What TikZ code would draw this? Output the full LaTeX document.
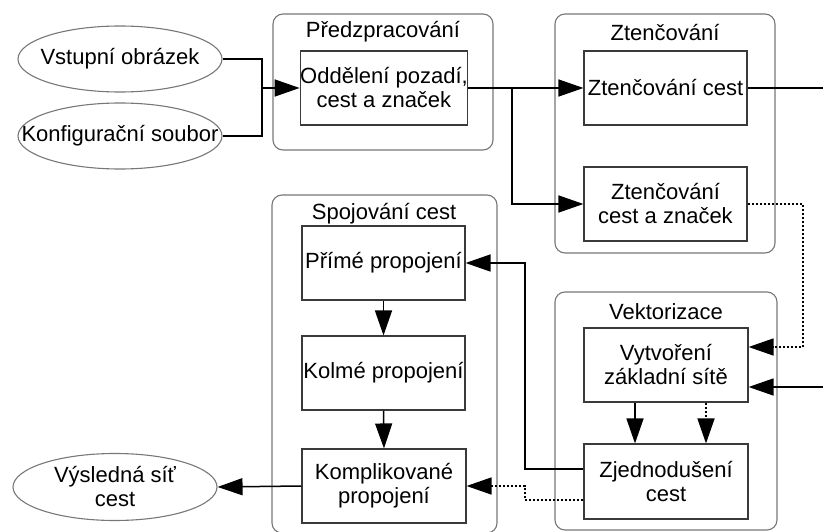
\documentclass[tikz,border=0pt]{standalone}
\usepackage{fontspec}
\setmainfont{Liberation Sans}
\usetikzlibrary{arrows.meta,shapes.geometric}
\definecolor{grpgray}{HTML}{777777}
\definecolor{boxgray}{HTML}{3A3A3A}
\begin{document}
\begin{tikzpicture}[x=1pt,y=-1pt,
  every node/.style={font=\fontsize{22}{24}\selectfont, inner sep=0pt, align=center},
  grp/.style={draw=grpgray, line width=1.1pt, rounded corners=10pt},
  grptitle/.style={},
  proc/.style={draw=boxgray, line width=1.1pt, minimum width=164pt, minimum height=74pt},
  term/.style={ellipse, draw=grpgray, line width=1.1pt, minimum width=204pt, minimum height=66pt},
  conn/.style={line width=1.5pt, black},
  arr/.style={conn, -{Triangle[length=25pt,width=17pt]}},
  dots/.style={dash pattern=on 2pt off 2pt}
]
\useasboundingbox (0,0) rectangle (823,532);

% groups
\node[grp, minimum width=220pt, minimum height=136pt] (gpre) at (383,82) {};
\node[grp, minimum width=220pt, minimum height=239pt] (gzt) at (665,133.5) {};
\node[grp, minimum width=222pt, minimum height=238pt] (gvek) at (666,411) {};
\node[grp, minimum width=225pt, minimum height=338pt] (gspo) at (384.5,364) {};

\node[grptitle] (tpre) at (383,32) {Předzpracování};
\node[grptitle] (tzt) at (665,33) {Ztenčování};
\node[grptitle] (tvek) at (666,312) {Vektorizace};
\node[grptitle] (tspo) at (384,214) {Spojování cest};

% terminals
\node[term] (vst) at (120,59) {};
\node (vstt) at (vst) {Vstupní obrázek};
\node[term] (konf) at (120,136) {};
\node (konft) at (konf) {Konfigurační soubor};
\node[term, minimum height=67pt] (vys) at (115,487) {};
\node (vyst) at (vys) {Výsledná síť\\cest};

% processes
\node[proc] (odd) at (384,88) {Oddělení pozadí,\\cest a značek};
\node[proc, minimum width=163pt] (ztc) at (665.5,88) {Ztenčování cest};
\node[proc, minimum width=163pt] (ztz) at (665.5,204) {Ztenčování\\cest a značek};
\node[proc] (vyt) at (666,365) {Vytvoření\\základní sítě};
\node[proc, minimum height=75pt] (zje) at (666,481.5) {Zjednodušení\\cest};
\node[proc, minimum width=163pt] (pri) at (383.5,263) {Přímé propojení};
\node[proc, minimum width=163pt] (kol) at (383.5,373) {Kolmé propojení};
\node[proc] (kom) at (384,486) {Komplikované\\propojení};

% connectors
\coordinate (j1) at (262,88);
\coordinate (j2) at (512,88);
\draw[conn] (vst.east) -| (j1);
\draw[conn] (konf.east) -| (j1);
\draw[arr] (j1) -- (odd.west);
\draw[arr] (odd.east) -- (ztc.west);
\draw[arr] (j2) |- (ztz.west);
\draw[arr] (ztc.east) -- (860,88) |- ([yshift=-22pt]vyt.east);
\draw[arr, dots] (ztz.east) -- (803,204) |- ([yshift=18pt]vyt.east);
\draw[arr] ([xshift=-31pt]vyt.south) -- ([xshift=-31pt]zje.north);
\draw[arr, dots] ([xshift=40pt]vyt.south) -- ([xshift=40pt]zje.north);
\draw[arr] ([yshift=12.5pt]zje.west) -- (525,469) |- (pri.east);
\draw[arr, dots] ([yshift=-18.5pt]zje.west) -- (525,500) |- (kom.east);
\draw[arr] (pri.south) -- (kol.north);
\draw[arr] (kol.south) -- (kom.north);
\draw[arr] (kom.west) -- (vys.east);
\end{tikzpicture}
\end{document}
